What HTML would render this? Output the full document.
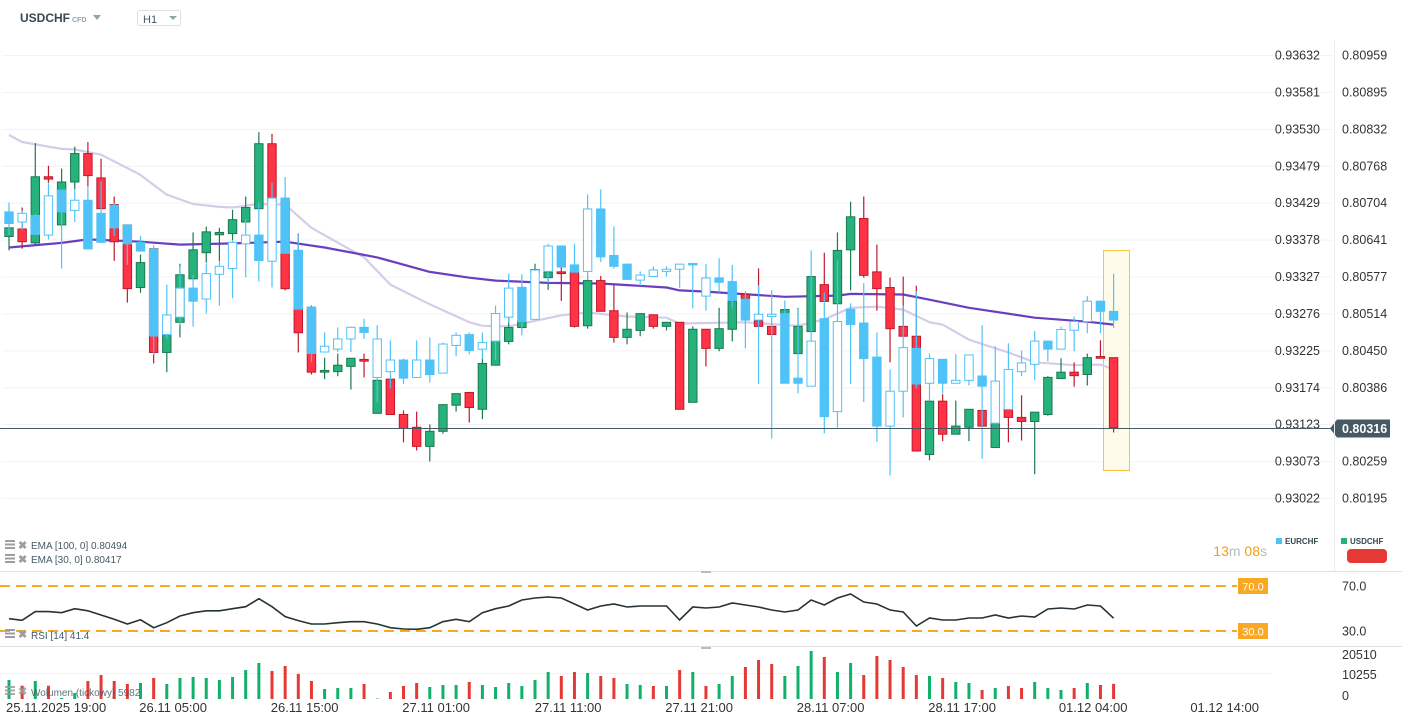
<!DOCTYPE html>
<html><head><meta charset="utf-8"><style>
html,body{margin:0;padding:0;background:#fff;}
svg{display:block;font-family:"Liberation Sans",Arial,sans-serif;}
</style></head><body>
<svg id="chart" width="1402" height="725" viewBox="0 0 1402 725" xmlns="http://www.w3.org/2000/svg">
<rect width="1402" height="725" fill="#fff"/>
<g>
<text x="20" y="22" font-size="12" font-weight="bold" fill="#37474f">USDCHF</text>
<text x="72" y="22" font-size="7" font-weight="bold" fill="#90a4ae">CFD</text>
<path d="M93 15 L101 15 L97 20 Z" fill="#90a4ae"/>
<rect x="137.5" y="10.5" width="43" height="15" rx="2" fill="#fff" stroke="#dde1e4"/>
<text x="143" y="23" font-size="11" fill="#455a64">H1</text>
<path d="M169 16 L177 16 L173 20 Z" fill="#90a4ae"/>
</g>
<g id="grid"></g>
<g id="vaxis"></g>
<rect x="1103.5" y="250.5" width="26" height="220" fill="#fffbea" stroke="#f5c542" stroke-width="1"/>
<g id="ema"></g>
<g id="usd"></g>
<g id="eur"></g>
<g id="cur"></g>
<line x1="1334.5" y1="40" x2="1334.5" y2="571" stroke="#eceff1"/>
<g font-size="10" fill="#455a64">
<g fill="#9e9e9e"><rect x="5" y="540" width="10" height="2"/><rect x="5" y="543.5" width="10" height="2"/><rect x="5" y="547" width="10" height="2"/>
<rect x="5" y="554" width="10" height="2"/><rect x="5" y="557.5" width="10" height="2"/><rect x="5" y="561" width="10" height="2"/></g>
<text x="18" y="549" font-size="11" font-weight="bold" fill="#9e9e9e">✖</text>
<text x="18" y="563" font-size="11" font-weight="bold" fill="#9e9e9e">✖</text>
<text x="31" y="549">EMA [100,  0] 0.80494</text>
<text x="31" y="563">EMA [30,  0] 0.80417</text>
</g>
<text x="1267" y="556" text-anchor="end" font-size="14"><tspan fill="#f59e0b">13</tspan><tspan fill="#b0bec5">m </tspan><tspan fill="#f59e0b">08</tspan><tspan fill="#b0bec5">s</tspan></text>
<g font-size="8" font-weight="bold" fill="#37474f">
<rect x="1276" y="538" width="6" height="6" fill="#4fc3f7"/><text x="1285" y="544">EURCHF</text>
<rect x="1341" y="538" width="6" height="6" fill="#26b27c"/><text x="1350" y="544">USDCHF</text>
<rect x="1347" y="549" width="40" height="14" rx="4" fill="#e53935"/>
</g>
<line x1="0" y1="571.5" x2="1402" y2="571.5" stroke="#e0e0e0"/>
<rect x="701" y="571" width="10" height="2" fill="#b0bec5"/>
<g id="rsi"></g>
<line x1="0" y1="646.5" x2="1402" y2="646.5" stroke="#e0e0e0"/>
<rect x="701" y="647" width="10" height="2" fill="#b0bec5"/>
<g id="vol"></g>
<g id="xaxis" font-size="13" fill="#333"></g>
</svg>
<script>
const eurTicks=[0.93632,0.93581,0.93530,0.93479,0.93429,0.93378,0.93327,0.93276,0.93225,0.93174,0.93123,0.93073,0.93022];
const usdTicks=[0.80959,0.80895,0.80832,0.80768,0.80704,0.80641,0.80577,0.80514,0.80450,0.80386,0.80323,0.80259,0.80195];
const usdO=[80646,80659,80635,80749,80666,80740,80789,80747,80701,80666,80558,80625,80446,80498,80573,80618,80649,80651,80671,80694,80806,80706,80622,80522,80412,80413,80422,80434,80341,80400,80339,80317,80284,80310,80355,80377,80348,80424,80465,80489,80584,80575,80585,80585,80492,80570,80518,80472,80484,80511,80491,80498,80360,80486,80453,80486,80546,80501,80491,80513,80444,80482,80563,80530,80623,80677,80585,80558,80491,80474,80270,80362,80305,80317,80346,80282,80350,80334,80327,80339,80401,80412,80408,80439,80437];
const usdH=[80661,80696,80807,80768,80763,80801,80809,80780,80715,80666,80615,80625,80477,80599,80653,80663,80661,80692,80715,80826,80823,80713,80651,80527,80437,80444,80436,80444,80398,80400,80346,80344,80322,80356,80375,80377,80436,80467,80506,80560,80599,80585,80594,80585,80578,80578,80563,80515,80513,80511,80498,80498,80491,80486,80523,80535,80546,80591,80491,80520,80523,80577,80618,80653,80706,80715,80632,80575,80577,80561,80362,80374,80363,80348,80346,80325,80350,80372,80343,80405,80436,80429,80444,80467,80437];
const usdL=[80622,80625,80632,80739,80666,80727,80732,80694,80604,80532,80549,80427,80412,80472,80573,80601,80603,80640,80671,80694,80706,80553,80446,80408,80400,80405,80382,80403,80341,80339,80291,80277,80258,80306,80344,80325,80331,80424,80460,80489,80584,80554,80535,80489,80487,80517,80463,80460,80474,80487,80484,80348,80360,80422,80448,80465,80539,80491,80477,80513,80444,80482,80534,80530,80553,80575,80518,80429,80474,80276,80260,80293,80305,80293,80319,80282,80291,80294,80236,80337,80401,80387,80389,80436,80308];
const usdC=[80661,80637,80749,80745,80740,80789,80751,80694,80637,80556,80601,80446,80477,80580,80623,80654,80653,80675,80696,80806,80706,80556,80480,80412,80415,80424,80436,80431,80398,80339,80315,80284,80310,80356,80375,80351,80427,80467,80489,80501,80589,80585,80582,80491,80570,80517,80472,80486,80513,80491,80498,80348,80486,80453,80487,80535,80539,80491,80477,80520,80491,80577,80534,80622,80680,80579,80556,80487,80474,80276,80362,80305,80319,80348,80319,80325,80334,80327,80343,80403,80412,80406,80437,80436,80316];
const eurO=[93416,93402,93411,93384,93446,93418,93432,93414,93425,93398,93374,93365,93247,93271,93311,93296,93330,93338,93372,93384,93348,93435,93363,93285,93223,93227,93241,93257,93188,93196,93212,93188,93212,93194,93232,93247,93227,93238,93271,93312,93268,93334,93369,93343,93334,93420,93356,93344,93322,93327,93334,93337,93345,93300,93325,93320,93296,93267,93272,93276,93187,93176,93269,93141,93282,93263,93216,93121,93169,93228,93180,93213,93180,93184,93190,93125,93144,93196,93206,93238,93227,93253,93265,93293,93279];
const eurH=[93429,93418,93413,93456,93446,93446,93450,93458,93428,93398,93383,93370,93316,93341,93329,93345,93347,93377,93406,93429,93456,93464,93385,93286,93250,93257,93258,93269,93260,93239,93214,93239,93243,93236,93250,93250,93250,93287,93331,93330,93336,93372,93369,93372,93440,93447,93396,93345,93334,93341,93341,93344,93345,93344,93352,93343,93307,93315,93308,93294,93283,93363,93305,93349,93290,93318,93250,93199,93287,93307,93221,93213,93220,93219,93260,93231,93235,93225,93252,93239,93258,93272,93300,93294,93331];
const eurL=[93384,93391,93385,93378,93338,93402,93365,93374,93383,93343,93362,93219,93241,93260,93258,93276,93287,93297,93326,93320,93312,93359,93282,93209,93223,93223,93223,93241,93154,93173,93179,93188,93181,93194,93217,93220,93213,93212,93263,93246,93268,93318,93340,93333,93322,93347,93338,93323,93314,93327,93327,93311,93283,93280,93305,93283,93228,93179,93104,93180,93166,93176,93111,93119,93179,93154,93099,93053,93133,93173,93156,93166,93180,93177,93076,93125,93144,93190,93184,93210,93227,93224,93249,93249,93256];
const eurC=[93400,93414,93385,93438,93416,93432,93365,93374,93394,93372,93362,93245,93274,93311,93293,93331,93341,93374,93384,93349,93435,93359,93282,93221,93231,93241,93257,93250,93241,93212,93187,93212,93192,93234,93246,93225,93236,93276,93311,93265,93336,93369,93340,93333,93420,93354,93341,93323,93329,93336,93337,93344,93343,93325,93319,93294,93267,93275,93275,93180,93180,93238,93134,93265,93261,93214,93121,93169,93229,93179,93214,93180,93184,93219,93176,93183,93199,93208,93238,93227,93254,93265,93293,93279,93267];
const ema100Idx=[0,4,6,10,13,17,21,24,28,32,35,37,41,45,50,51,53,59,63,64,68,70,73,78,82,84];
const ema100Val=[80627,80635,80641,80637,80632,80634,80637,80627,80610,80585,80575,80570,80566,80565,80558,80553,80551,80542,80544,80547,80546,80537,80523,80506,80499,80494];
const ema30Idx=[0,1,4,5,7,9,10,12,14,16,17,19,21,23,27,29,32,35,36,38,42,44,47,50,51,56,60,62,64,66,68,70,71,73,76,78,81,83,84];
const ema30Val=[80821,80809,80797,80796,80787,80764,80752,80718,80702,80697,80696,80702,80701,80661,80610,80563,80529,80498,80492,80491,80510,80515,80508,80506,80496,80498,80492,80503,80523,80525,80520,80498,80494,80468,80446,80429,80424,80425,80417];
const rsiVal=[40.9,39.5,47.2,47.2,46.3,49.8,48,44.2,40.4,36.2,40,32.9,37.4,43.3,46.3,48,48,49.8,51.6,58.7,51.6,42.7,39.2,36.2,36.2,37.4,38.3,38.3,36.2,32.9,31.8,31.5,32.9,38.3,40.4,38.3,46.3,49.8,52.2,57.6,59.3,60.2,59.3,54,48.7,52.2,54,51.3,52.2,52.2,52.2,39.8,51.3,50.4,51.3,54.9,53.1,51.3,48.7,46.9,48.7,57.6,53.1,59.3,62.9,55.8,54,48.7,46.9,34.4,41.6,39.8,39.8,41.6,41.6,44.2,41.6,43.3,42.4,49.6,50.4,49.6,53.1,52.2,41.4];
const rsiLevels=[70,30];
const volVal=[7494,5246,7099,5246,394,2366,7099,9466,7099,5916,6310,8282,5916,8282,8677,8282,7494,8677,11438,14198,11043,13015,9860,7099,3944,4338,4338,5916,200,2761,5127,6310,4733,5522,5522,6705,5522,4733,6310,5127,7494,10649,9071,10649,10254,9071,8282,5916,5522,5127,5127,11438,10649,5127,5916,9071,12621,15382,13804,9071,13015,18931,16565,10649,14198,9466,16959,15382,12621,9466,9071,8282,6705,6310,3550,4338,5127,4338,6705,4338,3550,4338,6310,5522,5982];
const volTicks=[20510,10255,0];
const timeDates=["25.11.2025","26.11","26.11","27.11","27.11","27.11","28.11","28.11","01.12","01.12"];
const timeHours=["19:00","05:00","15:00","01:00","11:00","21:00","07:00","17:00","04:00","14:00"];
const timeIdx=[6,16,26,36,46,56,66,76,86,96];
const lastPrice=0.80316;

const NS="http://www.w3.org/2000/svg";
function mk(tag,attrs,parent){const e=document.createElementNS(NS,tag);for(const k in attrs)e.setAttribute(k,attrs[k]);parent.appendChild(e);return e;}
const xOf=i=>9+i*13.15;
const yEur=p=>55+(eurTicks[0]-p)/(eurTicks[0]-eurTicks[eurTicks.length-1])*443;
const yUsd=p=>55+(usdTicks[0]-p)/(usdTicks[0]-usdTicks[usdTicks.length-1])*443;
const yRsi=v=>631-(v-30)*45/40;
const yVol=v=>699-v/volTicks[0]*52;

const grid=document.getElementById('grid'),vax=document.getElementById('vaxis');
eurTicks.forEach((t,k)=>{
  const y=55+k*443/(eurTicks.length-1);
  const gl=mk('line',{x1:2,y1:y+0.5,x2:1333,y2:y+0.5,stroke:'#f1f3f4'},grid);
  
  
  const tl=mk('text',{x:1320,y:y+4.5,'text-anchor':'end','font-size':12.5,fill:'#333'},vax);
  tl.textContent=t.toFixed(5);
  
  
});
usdTicks.forEach((t,k)=>{
  const y=55+k*443/(usdTicks.length-1);
  const tl=mk('text',{x:1342,y:y+4.5,'font-size':12.5,fill:'#333'},vax);
  tl.textContent=t.toFixed(5);
  
  
});

function drawEma(idx,val,color,name){
  const pts=idx.map((i,k)=>xOf(i).toFixed(1)+','+yUsd(val[k]/1e5).toFixed(1)).join(' ');
  const pl=mk('polyline',{points:pts,fill:'none',stroke:color,'stroke-width':2.2,'stroke-linejoin':'round'},document.getElementById('ema'));
  
  
}
drawEma(ema30Idx,ema30Val,'#d6cbea','ema30-line');
drawEma(ema100Idx,ema100Val,'#6a3fbf','ema100-line');

function candle(g,i,o,h,l,c,yf,bull,name){
  const x=xOf(i);
  const yo=yf(o/1e5),yh=yf(h/1e5),yl=yf(l/1e5),yc=yf(c/1e5);
  const cg=mk('g',{},g);
  
  
  const w=mk('line',{x1:x,y1:yh,x2:x,y2:yl,stroke:bull.wick,'stroke-width':1.2},cg);
  
  
  const top=Math.min(yo,yc),ht=Math.max(1.5,Math.abs(yo-yc));
  const b=mk('rect',{x:x-4.2,y:top,width:8.4,height:ht,fill:bull.fill,stroke:bull.stroke,'stroke-width':1},cg);
  
  
}
const gU=document.getElementById('usd'),gE=document.getElementById('eur');
const uUp={fill:'#26b27c',stroke:'#1b7a4e',wick:'#1b7a4e'},uDn={fill:'#ff3346',stroke:'#c0182c',wick:'#c0182c'};
const eUp={fill:'#ffffff',stroke:'#4fc3f7',wick:'#4fc3f7'},eDn={fill:'#4fc3f7',stroke:'#4fc3f7',wick:'#4fc3f7'};
for(let i=0;i<usdO.length;i++){candle(gU,i,usdO[i],usdH[i],usdL[i],usdC[i],yUsd,usdC[i]>=usdO[i]?uUp:uDn,'usdchf-candle');}
for(let i=0;i<eurO.length;i++){candle(gE,i,eurO[i],eurH[i],eurL[i],eurC[i],yEur,eurC[i]>eurO[i]?eUp:eDn,'eurchf-candle');}

const cur=document.getElementById('cur');const yc=Math.round(yUsd(lastPrice))+0.5;
const cl=mk('line',{x1:0,y1:yc,x2:1332,y2:yc,stroke:'#455a64','stroke-width':1},cur);


const ct=mk('path',{d:`M1330 ${yc} L1337 ${yc-9} L1390 ${yc-9} L1390 ${yc+9} L1337 ${yc+9} Z`,fill:'#455a64'},cur);


const ctt=mk('text',{x:1342,y:yc+4.5,'font-size':12.5,'font-weight':'bold',fill:'#fff'},cur);
ctt.textContent=lastPrice.toFixed(5);



const rsi=document.getElementById('rsi');
rsiLevels.forEach(v=>{
  const y=yRsi(v);
  const dl=mk('line',{x1:0,y1:y,x2:1237,y2:y,stroke:'#f9a825','stroke-width':2,'stroke-dasharray':'10 6'},rsi);
  
  
  const tg=mk('rect',{x:1238,y:y-8,width:30,height:16,fill:'#f9a825'},rsi);
  
  
  const tt=mk('text',{x:1253,y:y+4.5,'text-anchor':'middle','font-size':11,fill:'#fff'},rsi);
  tt.textContent=v.toFixed(1);
  
  
  const al=mk('text',{x:1342,y:y+4.5,'font-size':12.5,fill:'#333'},rsi);
  al.textContent=v.toFixed(1);
  
  
});
const rp=rsiVal.map((v,i)=>xOf(i).toFixed(1)+','+yRsi(v).toFixed(1)).join(' ');
const rl=mk('polyline',{points:rp,fill:'none',stroke:'#263238','stroke-width':1.6},rsi);


const rg=mk('g',{'font-size':10,fill:'#455a64'},rsi);


[629,632.5,636].forEach(y=>{const r=mk('rect',{x:5,y:y,width:10,height:2,fill:'#9e9e9e'},rg);});
const rx=mk('text',{x:18,y:638,'font-size':11,'font-weight':'bold',fill:'#9e9e9e'},rg);rx.textContent='✖';


const rt=mk('text',{x:31,y:639},rg);rt.textContent='RSI  [14]  41.4';



const vol=document.getElementById('vol');
const vg=mk('line',{x1:0,y1:673.5,x2:1272,y2:673.5,stroke:'#f1f3f4'},vol);


volVal.forEach((v,i)=>{
  const y=yVol(v);
  const b=mk('rect',{x:xOf(i)-1.5,y:y,width:3,height:699-y,fill:usdC[i]>=usdO[i]?'#13b06a':'#e53935'},vol);
  
  
});
volTicks.forEach(t=>{
  const tl=mk('text',{x:1342,y:yVol(t)+(t===0?1:t===volTicks[0]?12:6),'font-size':12.5,fill:'#333'},vol);
  tl.textContent=String(t);
  
  
});
const vl=mk('g',{'font-size':10,fill:'#455a64','fill-opacity':0.85},vol);


[686,689.5,693].forEach(y=>{const r=mk('rect',{x:5,y:y,width:10,height:2,fill:'#9e9e9e'},vl);});
const vx=mk('text',{x:18,y:695,'font-size':11,'font-weight':'bold',fill:'#9e9e9e'},vl);vx.textContent='✖';


const vt=mk('text',{x:31,y:696},vl);vt.textContent='Wolumen  (tickowy)  5982';



const xa=document.getElementById('xaxis');
timeIdx.forEach((ix,k)=>{
  const x=xOf(ix);
  const t=k===0?mk('text',{x:6,y:712},xa):mk('text',{x:x-12.4,y:712,'text-anchor':'end'},xa);
  t.textContent=timeDates[k]+'  '+timeHours[k];
  
  
});
</script>
</body></html>
